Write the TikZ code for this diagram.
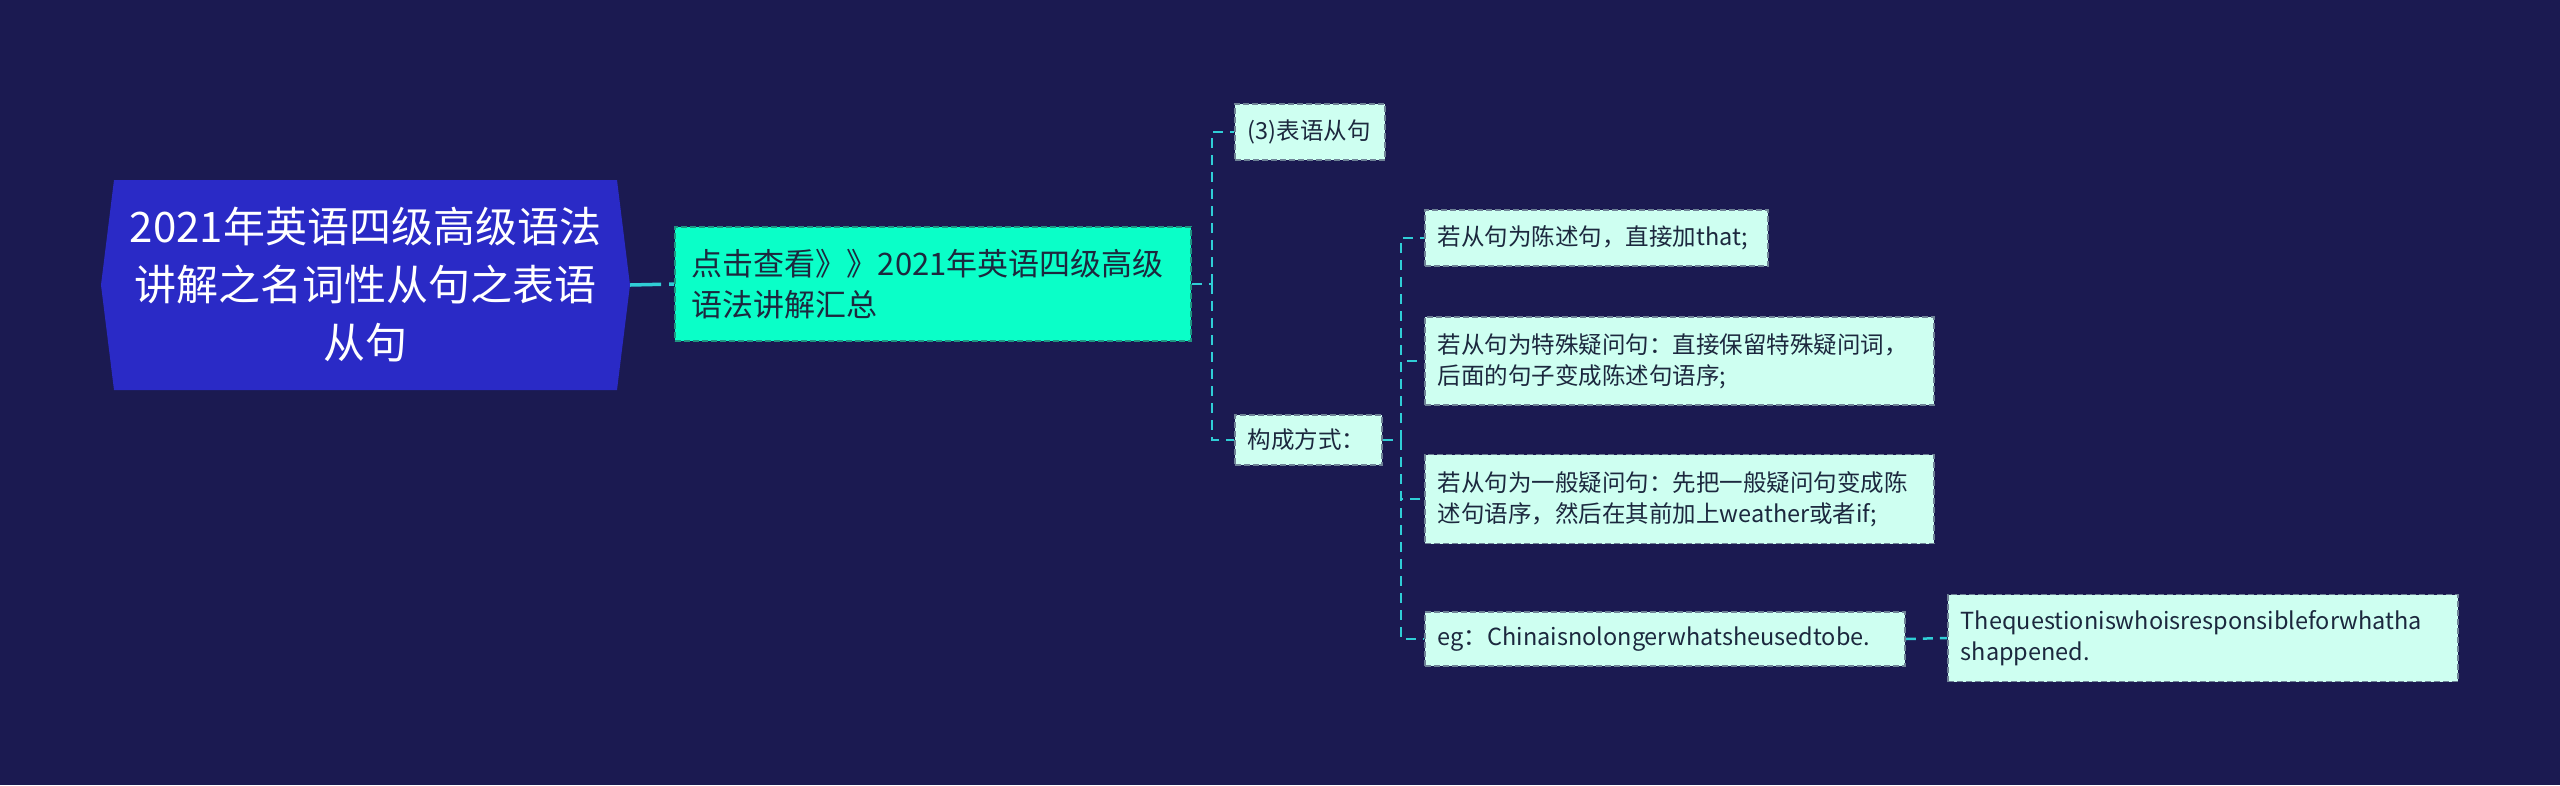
\documentclass[tikz,border=0pt]{standalone}
\usepackage{fontspec}
\setmainfont{Noto Sans CJK SC}
\definecolor{bg}{RGB}{27,26,81}
\definecolor{rootfill}{RGB}{42,42,198}
\definecolor{midfill}{RGB}{10,255,200}
\definecolor{midborder}{RGB}{30,150,130}
\definecolor{leaffill}{RGB}{206,255,241}
\definecolor{leafborder}{RGB}{110,130,150}
\definecolor{darktext}{RGB}{28,40,62}
\definecolor{linec}{RGB}{48,206,214}
\tikzset{
  rootnode/.style={text=white, font=\fontsize{42}{58}\selectfont, align=center,
    minimum width=529pt, minimum height=210pt, inner sep=0pt},
  midnode/.style={draw=midborder, line width=1.8pt, dash pattern=on 6pt off 3pt,
    fill=midfill, text=darktext, font=\fontsize{31}{41}\selectfont, align=left,
    inner xsep=17pt, inner ysep=0pt, anchor=west},
  leafnode/.style={draw=leafborder, line width=1.8pt, dash pattern=on 6pt off 3pt,
    fill=leaffill, text=darktext, font=\fontsize{23.5}{31}\selectfont, align=left,
    inner xsep=13pt, inner ysep=0pt, anchor=west},
  conn/.style={draw=linec, line width=2.5pt, dash pattern=on 10pt off 7pt},
  rootconn/.style={draw=linec, line width=3.5pt, dash pattern=on 31pt off 8pt},
}
\begin{document}
\begin{tikzpicture}[x=1pt, y={(0pt,-1pt)}]
\fill[bg] (0,0) rectangle (2560,785);
\useasboundingbox (0,0) rectangle (2560,785);
% root hexagon
\fill[rootfill] (114,180) -- (617,180) -- (630,285) -- (617,390) -- (114,390) -- (101,285) -- cycle;
\node[rootnode] (root) at (365.5,285) {2021年英语四级高级语法\\讲解之名词性从句之表语\\从句};
% level 1
\node[midnode, text width=482pt, minimum height=114pt] (mid) at (674,284)
  {点击查看》》2021年英语四级高级\\语法讲解汇总};
% level 2
\node[leafnode, text width=124pt, minimum height=56pt] (c3) at (1234,132) {(3)表语从句};
\node[leafnode, text width=121pt, minimum height=50pt] (gc) at (1234,440) {构成方式：};
% level 3
\node[leafnode, text width=317pt, minimum height=56pt] (l1) at (1424,238) {若从句为陈述句，直接加that;};
\node[leafnode, text width=483pt, minimum height=88pt] (l2) at (1424,361)
  {若从句为特殊疑问句：直接保留特殊疑问词，\\后面的句子变成陈述句语序;};
\node[leafnode, text width=483pt, minimum height=89pt] (l3) at (1424,499)
  {若从句为一般疑问句：先把一般疑问句变成陈\\述句语序，然后在其前加上weather或者if;};
\node[leafnode, text width=454pt, minimum height=54pt] (l4) at (1424,639)
  {eg：Chinaisnolongerwhatsheusedtobe.};
\node[leafnode, text width=484pt, minimum height=87pt] (l5) at (1947,638)
  {Thequestioniswhoisresponsibleforwhatha\\shappened.};
% connectors
\draw[rootconn] (root.east) -- (mid.west);
\coordinate (b1) at (1212,284);
\draw[conn] (mid.east) -- (b1);
\draw[conn] (b1) |- (c3.west);
\draw[conn] (b1) |- (gc.west);
\coordinate (b2) at (1401,440);
\draw[conn] (gc.east) -- (b2);
\draw[conn] (b2) |- (l1.west);
\draw[conn] (b2) |- (l2.west);
\draw[conn] (b2) |- (l3.west);
\draw[conn] (b2) |- (l4.west);
\draw[conn] (l4.east) -- (l5.west);
\end{tikzpicture}
\end{document}
